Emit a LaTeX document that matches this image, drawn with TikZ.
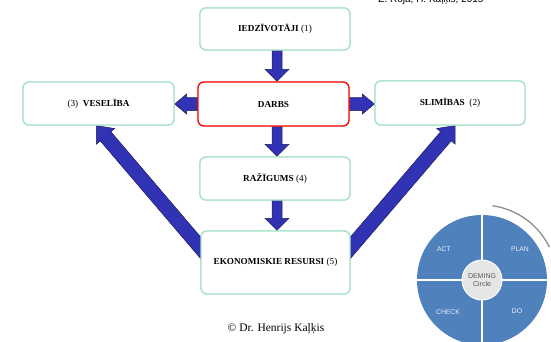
\documentclass[tikz,border=0pt]{standalone}
\usepackage{fontspec}
\setmainfont{Liberation Serif}
\newfontfamily\sansf{Liberation Sans}
\usetikzlibrary{calc}
\definecolor{boxgreen}{HTML}{A8E2CA}
\definecolor{arrblue}{HTML}{3232B4}
\definecolor{arrdark}{HTML}{1C1C5C}
\definecolor{demblue}{HTML}{4F81BD}
\definecolor{demgrey}{HTML}{E6E6E6}
\tikzset{
  box/.style={draw=boxgreen, line width=1.3pt, rounded corners=6pt, fill=white,
    inner sep=0pt, font=\fontsize{9.2}{10}\selectfont},
  redbox/.style={box, draw=red},
  barrowstyle/.style={fill=arrblue, draw=arrdark, line width=0.5pt, line join=miter},
  demlabel/.style={font=\sansf\fontsize{6.8}{8}\selectfont, text=white!88!demblue},
}
\newcommand\barrow[5]{%
  \coordinate (ba-h) at ($(#2)!#5!(#1)$);
  \filldraw[barrowstyle] ($(#1)!#3!90:(#2)$) -- ($(ba-h)!#3!-90:(#1)$) -- ($(ba-h)!#4!-90:(#1)$) -- (#2) -- ($(ba-h)!#4!90:(#1)$) -- ($(ba-h)!#3!90:(#1)$) -- ($(#1)!#3!-90:(#2)$) -- cycle;
}
\begin{document}
\begin{tikzpicture}[x=1pt,y=-1pt]
\useasboundingbox (0,0) rectangle (551,341);
\clip (0,0) rectangle (551,341);
% boxes (positions only, drawn later)
\path
  (275,29) node[box, minimum width=150pt, minimum height=42pt] (iedz) {}
  (273.5,104) node[box, minimum width=151pt, minimum height=44pt] (darbs) {}
  (98.5,103.5) node[box, minimum width=151pt, minimum height=43pt] (ves) {}
  (450,103) node[box, minimum width=150pt, minimum height=44pt] (slim) {}
  (275,178.5) node[box, minimum width=150pt, minimum height=43pt] (raz) {}
  (275.5,262.5) node[box, minimum width=149pt, minimum height=63pt] (ekon) {};
% arrow end points
\coordinate (a1s) at ($(iedz.south)+(2,0)$);
\coordinate (a1e) at ($(iedz.south |- darbs.north)+(2,0)$);
\coordinate (a2s) at ($(darbs.south)+(3.5,0)$);
\coordinate (a2e) at ($(darbs.south |- raz.north)+(3.5,0)$);
\coordinate (a3s) at ($(raz.south)+(2,0)$);
\coordinate (a3e) at ($(raz.south |- ekon.north)+(2,0)$);
\coordinate (a4s) at (darbs.west);
\coordinate (a4e) at (darbs.west -| ves.east);
\coordinate (a5s) at (darbs.east);
\coordinate (a5e) at (darbs.east -| slim.west);
\coordinate (a6s) at ($(ekon.west)+(6,-8)$);
\coordinate (a6e) at ($(ves.south)+(-2,0)$);
\coordinate (a7s) at ($(ekon.east)+(-6,-8)$);
\coordinate (a7e) at ($(slim.south)+(5,0)$);
\barrow{a1s}{a1e}{5pt}{12pt}{12pt}
\barrow{a2s}{a2e}{5pt}{12pt}{12pt}
\barrow{a3s}{a3e}{5pt}{12pt}{12pt}
\barrow{a4s}{a4e}{6.5pt}{10pt}{12pt}
\barrow{a5s}{a5e}{6.5pt}{10pt}{12pt}
\barrow{a6s}{a6e}{7pt}{12pt}{14pt}
\barrow{a7s}{a7e}{7pt}{12pt}{14pt}
% boxes drawn on top
\path
  (iedz.center) node[box, minimum width=150pt, minimum height=42pt] {\textbf{IEDZĪVOTĀJI} (1)}
  (darbs.center) node[redbox, minimum width=151pt, minimum height=44pt] {\textbf{DARBS}}
  (ves.center) node[box, minimum width=151pt, minimum height=43pt] {(3)\ \ \textbf{VESELĪBA}}
  (slim.center) node[box, minimum width=150pt, minimum height=44pt] {\textbf{SLIMĪBAS}\ \ (2)}
  (raz.center) node[box, minimum width=150pt, minimum height=43pt] {\textbf{RAŽĪGUMS} (4)}
  (ekon.center) node[box, minimum width=149pt, minimum height=63pt] {\textbf{EKONOMISKIE RESURSI} (5)};
% Deming circle
\coordinate (dc) at (482,280);
\fill[demblue] (dc) circle (65);
\draw[white, line width=1.5pt] ($(dc)+(-65,0)$) -- ($(dc)+(65,0)$);
\draw[white, line width=1.5pt] ($(dc)+(0,-65)$) -- ($(dc)+(0,65)$);
\fill[demgrey, draw=white, line width=1pt] (dc) circle (20);
\node[font=\sansf\fontsize{7}{8.5}\selectfont, text=black!65, align=center] (dcl) at (dc) {DEMING\\Circle};
\draw[black!45, line width=1.3pt] (dc) ++(-82:75) arc[start angle=-82, end angle=-26, radius=75];
\node[demlabel] (act) at (444,249) {ACT};
\node[demlabel] (plan) at (520,249) {PLAN};
\node[demlabel] (check) at (448,312) {CHECK};
\node[demlabel] (do) at (517,311) {DO};
% texts
\node[font=\fontsize{11.5}{13}\selectfont] (copy) at (276,329) {© Dr. Henrijs Kaļķis};
\node[anchor=base, font=\sansf\fontsize{10}{12}\selectfont] (auth) at (431,2) {Ž. Roja, H. Kaļķis, 2015};
\end{tikzpicture}
\end{document}
